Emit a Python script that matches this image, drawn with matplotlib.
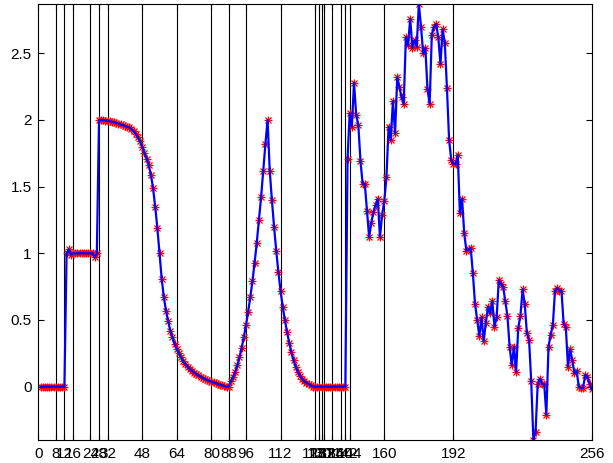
import numpy as np
import matplotlib
matplotlib.use("Agg")
import matplotlib.pyplot as plt

# signal values (samples 1..256)
flat_start = [0.0] * 12                       # 1..12
step_one = [1.0, 1.03, 0.99, 1.0, 1.0, 1.0, 1.0, 1.0,
            1.0, 1.0, 1.0, 1.0, 1.0, 0.97, 1.0]  # 13..27
hump = [2.0, 2.0, 1.998, 1.996, 1.994, 1.99, 1.987, 1.983, 1.978, 1.973,
        1.967, 1.961, 1.955, 1.95, 1.945, 1.93, 1.915, 1.895, 1.87, 1.84,
        1.80, 1.755, 1.71, 1.66, 1.59, 1.49, 1.35, 1.19, 1.0, 0.81,
        0.67, 0.57, 0.49, 0.42, 0.37, 0.32, 0.28, 0.25, 0.22, 0.19,
        0.17, 0.15, 0.13, 0.12, 0.105, 0.095, 0.085, 0.075, 0.065, 0.058,
        0.05, 0.044, 0.038, 0.032, 0.026, 0.02, 0.015, 0.01, 0.005, 0.0,
        0.0]                                  # 28..88
peak = [0.04, 0.07, 0.11, 0.16, 0.22, 0.29, 0.37, 0.46, 0.56, 0.67,
        0.79, 0.93, 1.08, 1.25, 1.42, 1.62, 1.82, 2.0, 1.62, 1.40,
        1.20, 1.02, 0.86, 0.72, 0.60, 0.50, 0.41, 0.33, 0.26, 0.20,
        0.15, 0.11, 0.08, 0.06, 0.04, 0.03, 0.02, 0.01, 0.0]  # 89..127
flat_mid = [0.0] * 15                         # 128..142
noisy = [1.71, 2.05, 1.95, 2.28, 2.04, 1.96, 1.69, 1.52, 1.52, 1.32,
         1.12, 1.23, 1.31, 1.36, 1.41, 1.12, 1.29, 1.39, 1.57, 1.95,
         1.85, 2.14, 1.90, 2.32, 2.25, 2.17, 2.12, 2.62, 2.56, 2.76,
         2.54, 2.60, 2.55, 2.87, 2.70, 2.50, 2.54, 2.23, 2.12, 2.64,
         2.70, 2.72, 2.62, 2.42, 2.68, 2.58, 2.24, 1.85, 1.70, 1.67,
         1.67, 1.74, 1.30, 1.41, 1.15, 1.02, 1.03, 1.04, 0.85, 0.62,
         0.50, 0.38, 0.52, 0.34, 0.48, 0.60, 0.55, 0.64, 0.45, 0.52,
         0.80, 0.77, 0.75, 0.64, 0.53, 0.30, 0.16, 0.30, 0.11, 0.44,
         0.53, 0.73, 0.62, 0.40, 0.35, 0.04, -0.40, -0.34, 0.02, 0.06,
         0.02, 0.02, -0.21, 0.30, 0.39, 0.46, 0.72, 0.74, 0.72, 0.72,
         0.47, 0.45, 0.15, 0.28, 0.20, 0.10, 0.12, 0.00, -0.01, -0.01,
         0.09, 0.07, 0.02, -0.02]            # 143..256

# segment boundaries (vertical lines / x ticks)
breaks = [8, 12, 16, 24, 28, 32, 48, 64, 80, 88, 96, 112, 128, 130, 131,
          132, 136, 140, 142, 144, 160, 192]
xticks = [0] + breaks + [256]

signal = np.array(flat_start + step_one + hump + peak + flat_mid + noisy)
x = np.arange(1, len(signal) + 1)

plt.rcParams['font.family'] = ['Liberation Sans', 'DejaVu Sans']
fig = plt.figure(figsize=(6.13, 4.63), dpi=100)
ax = fig.add_axes([0.0628, 0.0497, 0.9025, 0.9417])

ymin, ymax = signal.min(), signal.max()
for b in breaks:
    ax.plot([b, b], [ymin, ymax], color='k', linewidth=0.8, zorder=1)

# matlab-style asterisk = plus + cross
for m in ['+', 'x']:
    ax.plot(x, signal, linestyle='none', marker=m, color='red',
            markersize=6 if m == '+' else 5, markeredgewidth=0.9, zorder=2)
ax.plot(x, signal, color='blue', linewidth=1.6, zorder=3)

ax.set_xlim(0, 256)
ax.set_ylim(ymin, ymax)
ax.set_xticks(xticks)
ax.set_xticklabels([str(t) for t in xticks])
ax.set_yticks([0, 0.5, 1, 1.5, 2, 2.5])
ax.set_yticklabels(['0', '0.5', '1', '1.5', '2', '2.5'])
ax.tick_params(direction='in', top=True, right=True, labelsize=11,
               length=4, width=0.8, pad=5)
for s in ax.spines.values():
    s.set_linewidth(0.8)

fig.savefig('out.png', dpi=100)
